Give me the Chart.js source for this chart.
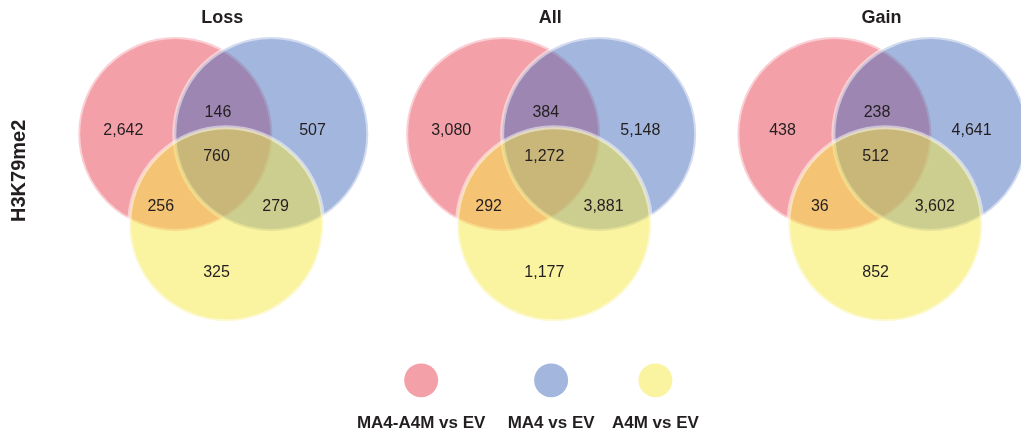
<!DOCTYPE html>
<html lang="en">
<head>
    <meta charset="UTF-8">
    <title>H3K79me2 Venn</title>
    <script src="https://cdn.jsdelivr.net/npm/chart.js"></script>
    <style>
        body {
            margin: 0;
            background: #fff;
            overflow: hidden;
        }
        canvas {
            display: block;
        }
    </style>
</head>
<body>
    <canvas id="venn" width="1021" height="437"></canvas>

    <script>
        // data
        const rowLabel = 'H3K79me2';
        const panels = ['Loss', 'All', 'Gain'];
        const sets = ['MA4-A4M vs EV', 'MA4 vs EV', 'A4M vs EV'];
        // regions: A only, A&B, B only, A&B&C, A&C, B&C, C only
        const regions = ['A', 'AB', 'B', 'ABC', 'AC', 'BC', 'C'];
        const lossCounts = [2642, 146, 507, 760, 256, 279, 325];
        const allCounts = [3080, 384, 5148, 1272, 292, 3881, 1177];
        const gainCounts = [438, 238, 4641, 512, 36, 3602, 852];
        const panelCounts = [lossCounts, allCounts, gainCounts];

        // layout (units = circle radius)
        const xMin = -2.302, xMax = 8.224;
        const yMin = -3.124, yMax = 1.381;
        const panelX = [0, 3.38, 6.795];
        const circleAt = [[-0.495, 0], [0.495, 0], [0.03, -0.93]];
        const regionAt = {
            A: [-1.03, 0.03], AB: [-0.055, 0.225], B: [0.92, 0.03],
            ABC: [-0.07, -0.237], AC: [-0.645, -0.75], BC: [0.54, -0.75], C: [-0.07, -1.43]
        };
        const legendX = [2.04, 3.38, 4.455];
        const legendY = -2.54;
        const legendR = 0.175;

        const fills = ['rgba(233, 65, 81, 0.5)', 'rgba(71, 109, 187, 0.5)', 'rgba(245, 231, 65, 0.5)'];
        const solid = ['#f4a0a8', '#a3b6dd', '#faf3a0'];
        const font = "'Liberation Sans', Arial, sans-serif";

        const canvas = document.getElementById('venn');
        // pixels per layout unit (bubble radius is given in pixels)
        const unit = canvas.width / (xMax - xMin);

        // one dataset per set colour, one circle per panel
        const circleSets = sets.map((name, s) => ({
            label: name,
            data: panelX.map(px => ({ x: px + circleAt[s][0], y: circleAt[s][1], r: unit })),
            backgroundColor: fills[s],
            borderColor: 'rgba(255, 255, 255, 0.5)',
            borderWidth: 4,
            clip: false,
            order: 3 - s,
        }));

        const legendSet = {
            label: 'legend',
            data: legendX.map(x => ({ x: x, y: legendY, r: unit * legendR })),
            backgroundColor: solid,
            borderWidth: 0,
            clip: false,
            order: 0,
        };

        const textPlugin = {
            id: 'vennText',
            afterDatasetsDraw(chart) {
                const { ctx, scales: { x, y } } = chart;
                ctx.save();
                ctx.fillStyle = '#231f20';
                ctx.textAlign = 'center';
                ctx.textBaseline = 'middle';

                panels.forEach((title, p) => {
                    ctx.font = 'bold 18px ' + font;
                    ctx.fillText(title, x.getPixelForValue(panelX[p] - 0.01), y.getPixelForValue(1.19));

                    ctx.font = '16px ' + font;
                    regions.forEach((r, i) => {
                        const pos = regionAt[r];
                        ctx.fillText(panelCounts[p][i].toLocaleString('en-US'),
                            x.getPixelForValue(panelX[p] + pos[0]), y.getPixelForValue(pos[1]));
                    });
                });

                // legend labels
                ctx.font = 'bold 17px ' + font;
                sets.forEach((name, s) => {
                    ctx.fillText(name, x.getPixelForValue(legendX[s]), y.getPixelForValue(-2.98));
                });

                // row label
                ctx.font = 'bold 20px ' + font;
                ctx.translate(x.getPixelForValue(-2.1), y.getPixelForValue(-0.38));
                ctx.rotate(-Math.PI / 2);
                ctx.fillText(rowLabel, 0, 0);
                ctx.restore();
            }
        };

        new Chart(canvas, {
            type: 'bubble',
            data: { datasets: [...circleSets, legendSet] },
            options: {
                responsive: false,
                animation: false,
                events: [],
                layout: { padding: 0, autoPadding: false },
                plugins: {
                    legend: { display: false },
                    tooltip: { enabled: false },
                },
                scales: {
                    x: { type: 'linear', min: xMin, max: xMax, display: false },
                    y: { type: 'linear', min: yMin, max: yMax, display: false },
                },
            },
            plugins: [textPlugin],
        });
    </script>
</body>
</html>
